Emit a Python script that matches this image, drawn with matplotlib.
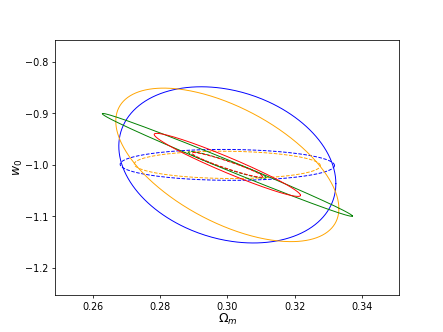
import numpy as np
import matplotlib
matplotlib.use("Agg")
import matplotlib.pyplot as plt

# fiducial point
center = (0.3, -1.0)

# ellipse half-extents in Omega_m and w0, plus correlation
colors = ["blue", "orange", "green", "red"]
solid_sx = [0.0322, 0.0331, 0.0371, 0.0217]
solid_sy = [0.1516, 0.1490, 0.0998, 0.0612]
solid_rho = [-0.24, -0.57, -0.9947, -0.965]

dashed_sx = [0.0318, 0.0276, 0.0115, 0.0105]
dashed_sy = [0.0300, 0.0265, 0.0260, 0.0240]
dashed_rho = [-0.04, -0.06, -0.95, -0.95]


def ellipse_points(sx, sy, rho, n=400):
    cov = np.array([[sx * sx, rho * sx * sy], [rho * sx * sy, sy * sy]])
    L = np.linalg.cholesky(cov)
    t = np.linspace(0, 2 * np.pi, n)
    pts = L @ np.vstack([np.cos(t), np.sin(t)])
    return center[0] + pts[0], center[1] + pts[1]


fig, ax = plt.subplots(figsize=(6.41, 4.8), dpi=69.2)

for i, c in enumerate(colors):
    x, y = ellipse_points(solid_sx[i], solid_sy[i], solid_rho[i])
    ax.plot(x, y, color=c, lw=1.0)
    x, y = ellipse_points(dashed_sx[i], dashed_sy[i], dashed_rho[i])
    ax.plot(x, y, color=c, lw=1.0, ls="--")

ax.set_xlim(0.249, 0.351)
ax.set_ylim(-1.2535, -0.757)
ax.set_xticks([0.26, 0.28, 0.30, 0.32, 0.34])
ax.set_yticks([-1.2, -1.1, -1.0, -0.9, -0.8])
ax.set_xlabel(r"$\Omega_m$", fontsize=13, labelpad=0)
ax.set_ylabel(r"$w_0$", fontsize=13, labelpad=0)

fig.savefig("out.png", dpi=69.2)
